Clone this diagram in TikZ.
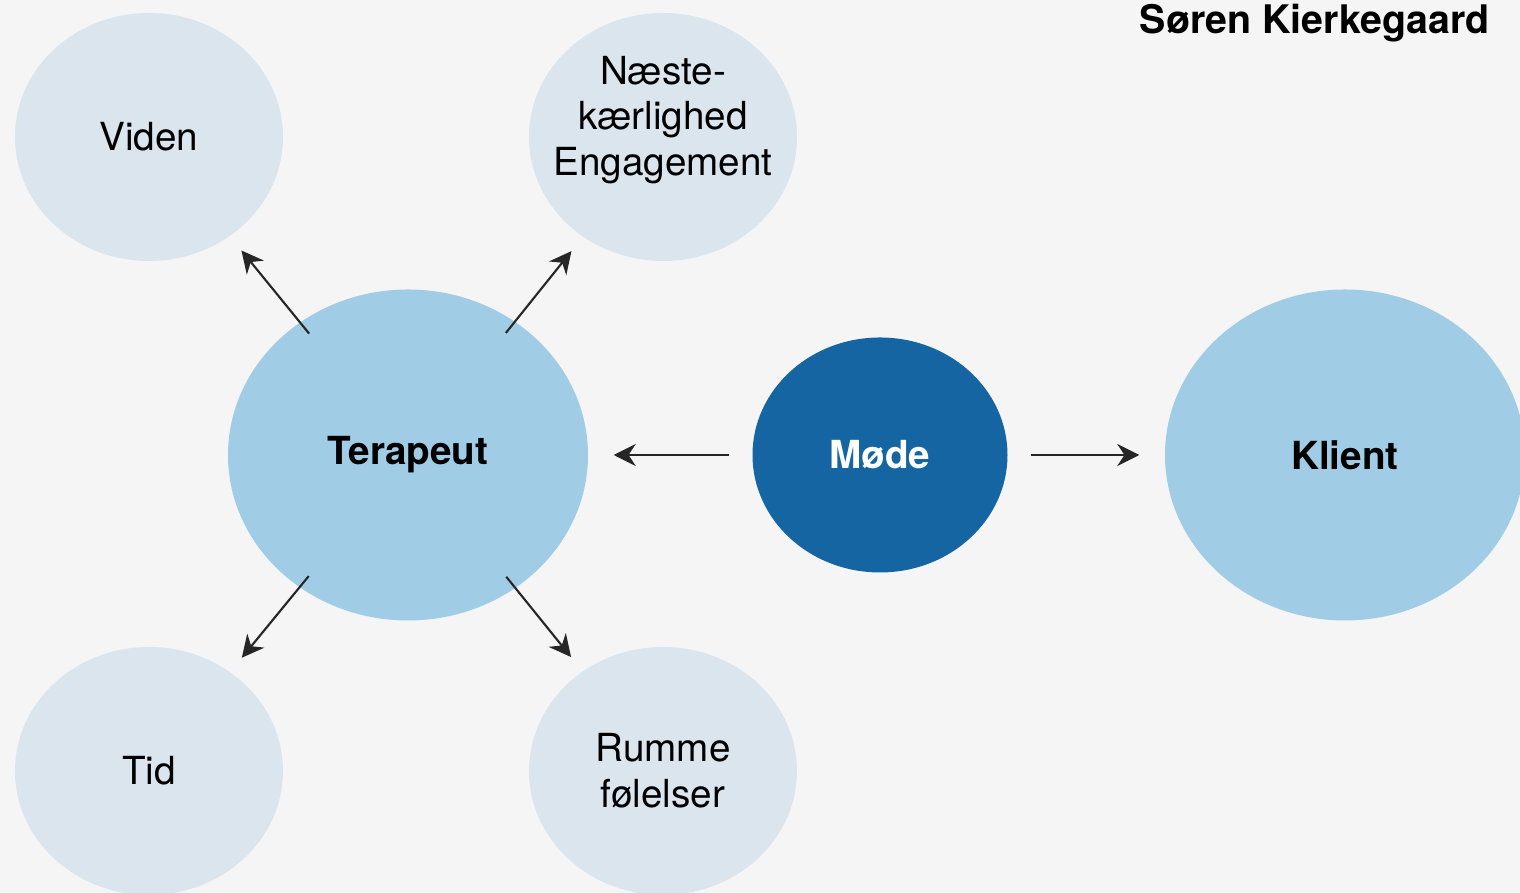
\documentclass[tikz,border=0pt]{standalone}
\usepackage{fontspec}
\setmainfont{TeX Gyre Heros}
\usepackage{xcolor}
\usetikzlibrary{shapes.geometric}
\usetikzlibrary{arrows.meta}
\definecolor{bggrey}{HTML}{F5F5F5}
\definecolor{paleblue}{HTML}{DAE5EE}
\definecolor{midblue}{HTML}{A0CDE5}
\definecolor{deepblue}{HTML}{1565A3}
\tikzset{
  every node/.style={font=\fontsize{11}{13}\selectfont},
  satellite/.style={ellipse, fill=paleblue, minimum width=2.68cm, minimum height=2.48cm, inner sep=0pt, align=center},
  party/.style={ellipse, fill=midblue, minimum width=3.6cm, minimum height=3.31cm, inner sep=0pt, font=\fontsize{11}{13}\selectfont\bfseries},
  meeting/.style={ellipse, fill=deepblue, text=white, minimum width=2.55cm, minimum height=2.35cm, inner sep=0pt, font=\fontsize{11}{13}\selectfont\bfseries},
  spoke/.style={draw=black!85, line width=0.6pt, -{Stealth[length=2.2mm, width=2.2mm]}, shorten <=-1.5mm, shorten >=1.8mm},
  link/.style={draw=black!85, line width=0.6pt, -{Stealth[length=2.2mm, width=2.2mm]}, shorten <=2.3mm, shorten >=2.5mm}
}

\begin{document}
\begin{tikzpicture}
  % background
  \fill[bggrey] (0, 0) rectangle (15.2, 8.93);
  \useasboundingbox (0, 0) rectangle (15.2, 8.93);

  \node[anchor=north east, font=\fontsize{11.2}{13}\selectfont\bfseries] at (15.02, 9.01) (title) {Søren Kierkegaard};

  % the meeting
  \node[party] at (4.08, 4.38) (terapeut) {Terapeut};
  \node[meeting] at (8.80, 4.38) (mode) {Møde};
  \node[party] at (13.45, 4.38) (klient) {Klient};

  % what the therapist brings
  \node[satellite] at (1.49, 7.56) (viden) {Viden};
  \node[satellite, label={[align=center, yshift=0.17cm]center:Næste-\\kærlighed\\Engagement}] at (6.63, 7.56) (naeste) {};
  \node[satellite] at (1.49, 1.22) (tid) {Tid};
  \node[satellite] at (6.63, 1.22) (rumme) {Rumme\\følelser};

  \draw[spoke] (terapeut) -- (viden);
  \draw[spoke] (terapeut) -- (naeste);
  \draw[spoke] (terapeut) -- (tid);
  \draw[spoke] (terapeut) -- (rumme);

  \draw[link] (mode) -- (terapeut);
  \draw[link] (mode) -- (klient);
\end{tikzpicture}
\end{document}
